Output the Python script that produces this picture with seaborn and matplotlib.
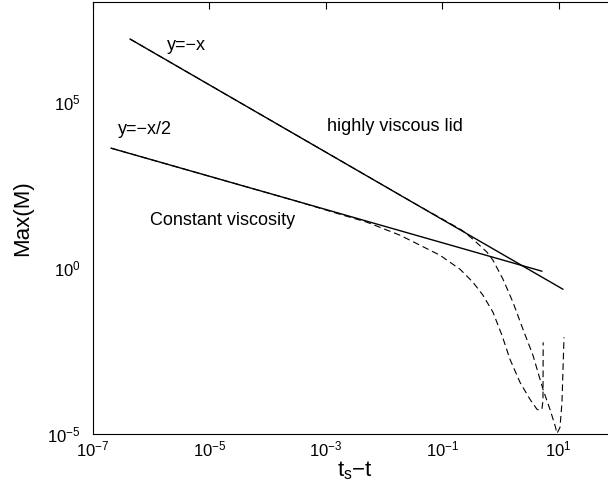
import numpy as np
import pandas as pd
import matplotlib
matplotlib.use("Agg")
import matplotlib.pyplot as plt
from matplotlib.ticker import NullLocator
import seaborn as sns

# ---- data (log10 values) ----
# fitted power laws (solid)
fit_lid_logx = [-6.364, 1.076]
fit_lid_logy = [6.886, -0.645]
fit_const_logx = [-6.691, 0.715]
fit_const_logy = [3.602, -0.102]

# simulation: highly viscous lid (dashed)
lid_logx = [-6.364, -4.5, -3.0, -1.5, -0.660, -0.471, -0.230, -0.127, 0.045, 0.216,
            0.388, 0.560, 0.732, 0.852, 0.938, 0.973, 1.024, 1.058, 1.093]
lid_logy = [6.886, 5.000, 3.482, 1.964, 1.133, 0.861, 0.470, 0.229, -0.343, -1.036,
            -1.849, -2.633, -3.657, -4.259, -4.741, -4.98, -4.801, -4.048, -2.09]

# simulation: constant viscosity (dashed)
const_logx = [-6.691, -5.0, -3.5, -2.876, -2.292, -1.725, -1.038, -0.694, -0.471, -0.299,
              -0.127, 0.027, 0.165, 0.337, 0.509, 0.629, 0.680, 0.715, 0.732, 0.735]
const_logy = [3.602, 2.756, 2.006, 1.675, 1.373, 0.982, 0.380, -0.042, -0.434, -0.825,
              -1.337, -2.030, -2.753, -3.446, -3.958, -4.259, -4.289, -4.229, -3.988, -2.241]

x_ticks_exp = [-7, -5, -3, -1, 1]
y_ticks_exp = [-5, 0, 5]

annotations = [
    ("y=\u2212x", -5.729, 6.705),
    ("y=\u2212x/2", -6.570, 4.175),
    ("highly viscous lid", -2.979, 4.265),
    ("Constant viscosity", -6.021, 1.434),
]

# ---- plotting ----
sns.set_style("white")
plt.rcParams["font.family"] = ["Liberation Sans", "DejaVu Sans"]
plt.rcParams["mathtext.fontset"] = "custom"
plt.rcParams["mathtext.rm"] = "Liberation Sans"
plt.rcParams["text.color"] = "black"
plt.rcParams["axes.labelcolor"] = "black"
plt.rcParams["xtick.color"] = "black"
plt.rcParams["ytick.color"] = "black"

fig = plt.figure(figsize=(6.08, 4.91), dpi=100)
ax = fig.add_axes([93 / 608, 57 / 491, 523.8 / 608, 432 / 491])

def df(lx, ly):
    return pd.DataFrame({"x": 10 ** np.asarray(lx, float), "y": 10 ** np.asarray(ly, float)})

dash = (0, (6, 3.5))
sns.lineplot(data=df(lid_logx, lid_logy), x="x", y="y", sort=False, estimator=None,
             color="black", lw=0.8, linestyle=dash, ax=ax)
sns.lineplot(data=df(const_logx, const_logy), x="x", y="y", sort=False, estimator=None,
             color="black", lw=0.8, linestyle=dash, ax=ax)
sns.lineplot(data=df(fit_lid_logx, fit_lid_logy), x="x", y="y", sort=False, estimator=None,
             color="black", lw=1.0, ax=ax)
sns.lineplot(data=df(fit_const_logx, fit_const_logy), x="x", y="y", sort=False, estimator=None,
             color="black", lw=1.0, ax=ax)

ax.set_xscale("log")
ax.set_yscale("log")
ax.set_xlim(1e-7, 1e2)
ax.set_ylim(1e-5, 1e8)
ax.set_xticks([10.0 ** e for e in x_ticks_exp])
ax.set_yticks([10.0 ** e for e in y_ticks_exp])
ax.xaxis.set_minor_locator(NullLocator())
ax.yaxis.set_minor_locator(NullLocator())

ax.tick_params(axis="both", which="major", direction="in", length=5, width=0.8,
               top=True, right=True, labelsize=12, colors="black")
ax.tick_params(axis="x", pad=4)
ax.tick_params(axis="y", pad=9)
for s in ax.spines.values():
    s.set_color("black")
    s.set_linewidth(0.8)
    s.set_visible(True)

ax.set_xlabel("t$_\\mathregular{s}$\u2212t", fontsize=16, labelpad=0)
ax.set_ylabel("Max(M)", fontsize=16, labelpad=10)

for txt, lx, ly in annotations:
    ax.text(10 ** lx, 10 ** ly, txt, ha="left", va="center", fontsize=13, color="black")

fig.savefig("out.png", dpi=100)
